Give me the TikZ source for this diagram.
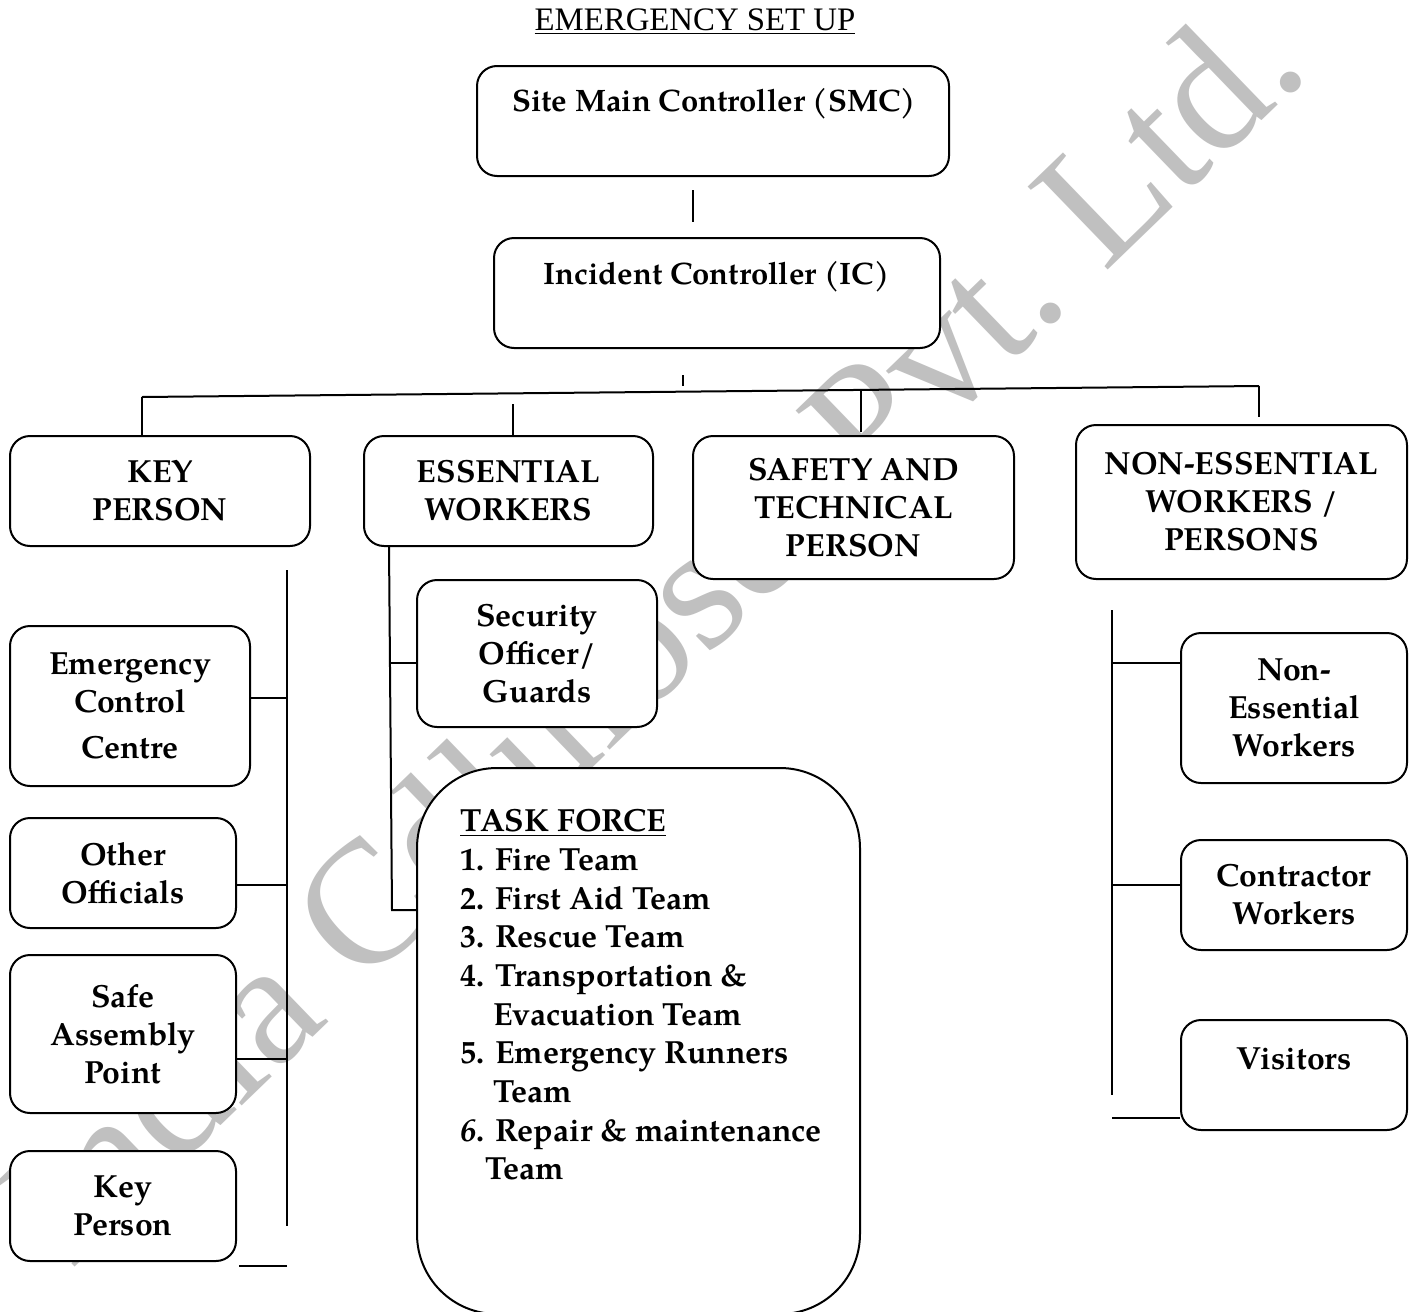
\documentclass[tikz,border=0pt]{standalone}
\usepackage{fontspec}
\setmainfont{TeX Gyre Pagella}
\newfontfamily\timesfont{Liberation Serif}
\usetikzlibrary{calc}
\definecolor{wmgray}{RGB}{192,192,192}
\newcommand\boxfont{\bfseries\fontsize{16}{19}\selectfont}
\newcommand\headfont{\bfseries\fontsize{15.5}{19}\selectfont}
\newcommand\listfont{\bfseries\fontsize{16}{19.35}\selectfont}
\begin{document}
\begin{tikzpicture}[x=0.5pt,y=-0.5pt,
  box/.style={draw, line width=1pt, rounded corners=10pt, fill=white,
    align=center, inner sep=0pt, font=\boxfont},
  wh/.style 2 args={minimum width=#1*0.5pt, minimum height=#2*0.5pt},
  boxtext/.style={inner sep=0pt, font=\boxfont},
  link/.style={line width=1pt},
  wm/.style={text=wmgray, inner sep=0pt, rotate=44, anchor=base west,
    font=\timesfont\fontsize{88}{90}\selectfont},
]
\useasboundingbox[fill=white] (0,0) rectangle (1415,1312);

% watermark, set piece by piece along a 44 degree baseline
\coordinate (wmstart) at (70,1272);
\node[wm] (wm1) at (wmstart) {India};
\node[wm] (wm2) at ($(wmstart)+(-44:405.7)$) {Ce};
\node[wm] (wm3) at ($(wmstart)+(-44:561)$) {llulose};
\node[wm] (wm4) at ($(wmstart)+(-44:1114.6)$) {Pvt.};
\node[wm] (wm5) at ($(wmstart)+(-44:1437.4)$) {Ltd.};

% title
\node[inner sep=0pt, font=\timesfont\fontsize{16.4}{19}\selectfont] (title) at (695,22) {\underline{EMERGENCY SET UP}};

% top of the hierarchy
\node[box, wh={472}{110}] (smc) at (713,121) {};
\node[boxtext, font=\headfont] (smctext) at (714,104) {Site Main Controller (SMC)};
\node[box, wh={446}{110}] (ic) at (717,293) {};
\node[boxtext, font=\headfont] (ictext) at (716.5,277) {Incident Controller (IC)};

% second row
\node[box, wh={300}{110}] (key) at (160,491) {KEY\\PERSON};
\node[box, wh={289}{110}] (ess) at (508.5,491) {ESSENTIAL\\WORKERS};
\node[box, wh={321}{143}] (safe) at (853.5,507.5) {SAFETY AND\\TECHNICAL\\PERSON};
\node[box, wh={331}{154}] (non) at (1241.5,502) {NON-ESSENTIAL\\WORKERS /\\PERSONS};

% key person column
\node[box, wh={240}{160}] (ecc) at (130,706) {Emergency\\Control\\[4pt]Centre};
\node[box, wh={226}{110}] (oth) at (123,873) {Other\\Officials};
\node[box, wh={226}{158}] (sap) at (123,1034) {Safe\\Assembly\\Point};
\node[box, wh={226}{110}] (kp) at (123,1206) {Key\\Person};

% essential workers column
\node[box, wh={240}{147}] (sec) at (537,653.5) {Security\\Officer/\\Guards};
\node[box, rounded corners=40pt, wh={443}{546}] (tf) at (638.5,1041) {};
\node[inner sep=0pt, align=left, font=\listfont, anchor=north west] (tflist) at (460,809)
  {\underline{TASK FORCE}\\
   1. Fire Team\\
   2. First Aid Team\\
   3. Rescue Team\\
   4. Transportation \&\\
   \hspace*{16.5pt}Evacuation Team\\
   5. Emergency Runners\\
   \hspace*{16.5pt}Team\\
   {\itshape 6}. Repair \& maintenance\\
   \hspace*{12.5pt}Team};

% non-essential column
\node[box, wh={226}{150}] (new) at (1294,708) {Non-\\Essential\\Workers};
\node[box, wh={226}{110}] (cw) at (1294,895) {Contractor\\Workers};
\node[box, wh={226}{110}] (vis) at (1294,1075) {};
\node[boxtext] (vistext) at (1294,1059) {Visitors};

% connector points
\coordinate (smcdrop) at (693,190);
\coordinate (icup) at (693,222);
\coordinate (tickA) at (683,375);
\coordinate (tickB) at (683,386);
\coordinate (busL) at (142,397);
\coordinate (busR) at (1259,386);
\coordinate (essTop) at (513,404);
\coordinate (safeBus) at (861,390);
\coordinate (safeEnd) at (861,432);
\coordinate (nonEnd) at (1259,417);

\coordinate (lvTop) at (287,570);
\coordinate (lvBot) at (287,1226);
\coordinate (lv1) at (287,698);
\coordinate (lv2) at (287,885);
\coordinate (lv3) at (287,1059);
\coordinate (lv4) at (287,1266);

\coordinate (evTop) at (389,546);
\coordinate (evMid) at (391,663);
\coordinate (evBot) at (392,910);

\coordinate (rvTop) at (1112,610);
\coordinate (rvBot) at (1112,1095);
\coordinate (rv1) at (1112,663);
\coordinate (rv2) at (1112,885);
\coordinate (rv3) at (1112,1118);

% connectors
\draw[link] (smcdrop) -- (icup);
\draw[link] (tickA) -- (tickB);
\draw[link] (busL) -- (busR);
\draw[link] (busL) -- (key.north -| busL);
\draw[link] (essTop) -- (essTop |- ess.north);
\draw[link] (safeBus) -- (safeEnd);
\draw[link] (busR) -- (nonEnd);

\draw[link] (lvTop) -- (lvBot);
\draw[link] (lv1) -- (lv1 -| ecc.east);
\draw[link] (lv2) -- (lv2 -| oth.east);
\draw[link] (lv3) -- (lv3 -| sap.east);
\draw[link] (lv4) -- ([xshift=1pt]lv4 -| kp.east);

\draw[link] (evTop) -- (evBot) -- (evBot -| tf.west);
\draw[link] (evMid) -- (evMid -| sec.west);

\draw[link] (rvTop) -- (rvBot);
\draw[link] (rv1) -- (rv1 -| new.west);
\draw[link] (rv2) -- (rv2 -| cw.west);
\draw[link] (rv3) -- (rv3 -| vis.west);
\end{tikzpicture}
\end{document}
